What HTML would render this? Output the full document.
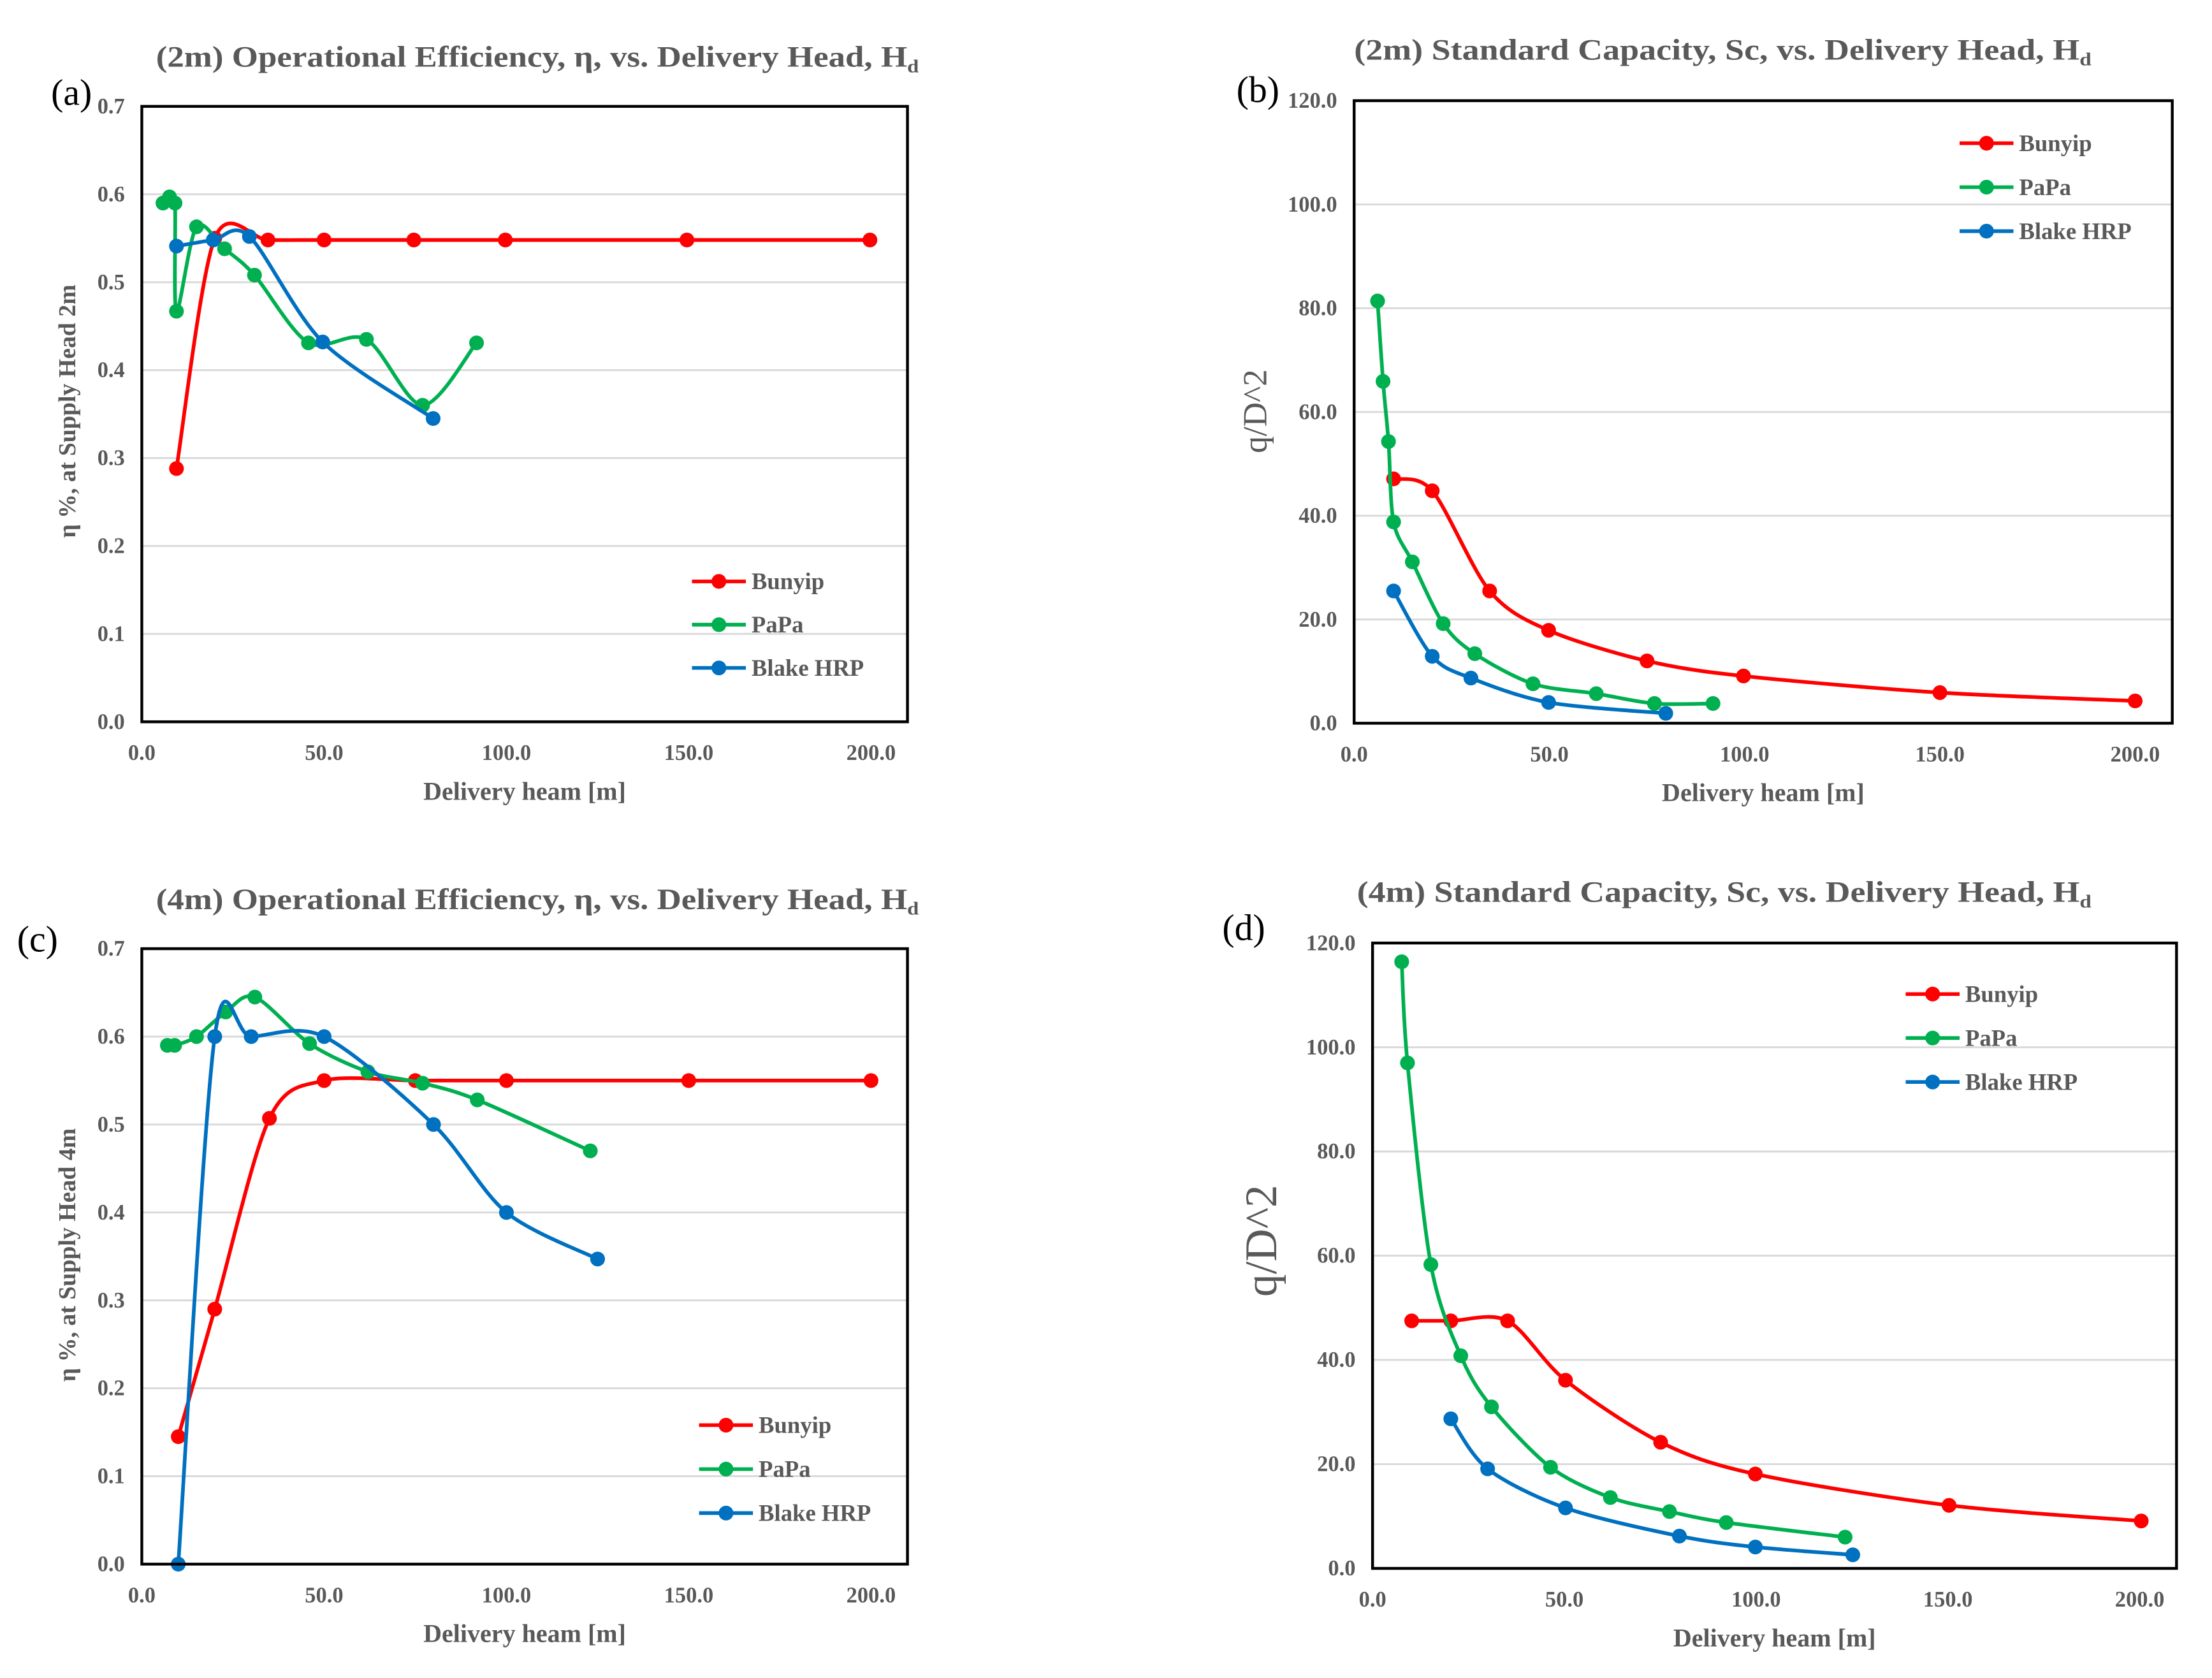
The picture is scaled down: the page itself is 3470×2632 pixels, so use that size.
<!DOCTYPE html>
<html><head><meta charset="utf-8">
<style>
html,body{margin:0;padding:0;background:#fff;}
svg{display:block;}
text{font-family:"Liberation Serif",serif;}
</style></head>
<body>
<svg id="fig" width="3470" height="2632" viewBox="0 0 1560 1183.3" xmlns="http://www.w3.org/2000/svg"></svg>
<script>
// ---------- data ----------
const seriesNames = ["Bunyip","PaPa","Blake HRP"];
const seriesColors = ["#ff0000","#00b050","#0070c0"];

const aBunyipX = [9.5,20,34.6,50,74.6,99.7,149.5,199.7];
const aBunyipY = [0.288,0.55,0.548,0.548,0.548,0.548,0.548,0.548];
const aPapaX = [5.8,7.6,9.1,9.5,15,22.7,30.9,45.7,61.6,77,91.8];
const aPapaY = [0.59,0.597,0.59,0.467,0.563,0.538,0.508,0.431,0.435,0.36,0.431];
const aBlakeX = [9.5,19.6,29.5,49.6,79.9];
const aBlakeY = [0.541,0.548,0.552,0.432,0.345];

const bBunyipX = [10.1,20,34.7,49.8,75,99.7,150,200];
const bBunyipY = [47.1,44.8,25.5,17.9,12,9.1,5.9,4.3];
const bPapaX = [6,7.4,8.8,10.1,14.9,22.8,30.9,45.8,62,76.9,91.9];
const bPapaY = [81.4,65.9,54.3,38.8,31.1,19.2,13.4,7.6,5.7,3.8,3.8];
const bBlakeX = [10.1,20,29.9,49.8,79.8];
const bBlakeY = [25.5,12.9,8.7,4,1.9];

const cBunyipX = [10,20,35,50,75,100,150,200];
const cBunyipY = [0.145,0.29,0.507,0.55,0.55,0.55,0.55,0.55];
const cPapaX = [7,9,15,23,31,46,62,77,92,123];
const cPapaY = [0.59,0.59,0.6,0.628,0.645,0.592,0.56,0.547,0.528,0.47];
const cBlakeX = [10,20,30,50,80,100,125];
const cBlakeY = [0,0.6,0.6,0.6,0.5,0.4,0.347];

const dBunyipX = [10.2,20.4,35.2,50.3,75.1,99.8,150.3,200.4];
const dBunyipY = [47.5,47.5,47.5,36.1,24.2,18.1,12.1,9.1];
const dPapaX = [7.6,9.1,15.2,23,31,46.4,62,77.4,92.2,123.2];
const dPapaY = [116.4,97,58.3,40.8,31,19.4,13.6,10.9,8.8,6];
const dBlakeX = [20.4,30,50.3,80,99.8,125.2];
const dBlakeY = [28.7,19.1,11.6,6.2,4.1,2.6];

const xTicks = [0,50,100,150,200];
const xTickLabels = ["0.0","50.0","100.0","150.0","200.0"];
const etaTicks = [0,0.1,0.2,0.3,0.4,0.5,0.6,0.7];
const etaTickLabels = ["0.0","0.1","0.2","0.3","0.4","0.5","0.6","0.7"];
const capTicks = [0,20,40,60,80,100,120];
const capTickLabels = ["0.0","20.0","40.0","60.0","80.0","100.0","120.0"];

// ---------- drawing ----------
const NS = "http://www.w3.org/2000/svg";
const fig = document.getElementById('fig');
function el(tag, attrs, parent){
  const e = document.createElementNS(NS, tag);
  for (const k in attrs) e.setAttribute(k, attrs[k]);
  (parent||fig).appendChild(e);
  return e;
}
function smoothPath(pts){
  if (pts.length < 2) return "";
  let d = "M" + pts[0][0] + "," + pts[0][1];
  for (let i=0;i<pts.length-1;i++){
    const p0 = pts[i-1]||pts[i], p1 = pts[i], p2 = pts[i+1], p3 = pts[i+2]||p2;
    const t = 0.15;
    const c1 = [p1[0]+(p2[0]-p0[0])*t, p1[1]+(p2[1]-p0[1])*t];
    const c2 = [p2[0]-(p3[0]-p1[0])*t, p2[1]-(p3[1]-p1[1])*t];
    d += " C"+c1[0]+","+c1[1]+" "+c2[0]+","+c2[1]+" "+p2[0]+","+p2[1];
  }
  return d;
}

function drawChart(cfg){
  const g = el('g', {});
  
  
  const sx = v => cfg.x0 + v / cfg.xMax * (cfg.x1 - cfg.x0);
  const sy = v => cfg.y0 - v / cfg.yMax * (cfg.y0 - cfg.y1);

  cfg.yTicks.forEach((t,i)=>{
    if (i===0) return;
    const ln = el('line',{x1:cfg.x0,x2:cfg.x1,y1:sy(t),y2:sy(t),stroke:'#d9d9d9','stroke-width':1.3},g);
    
    
  });
  cfg.yTicks.forEach((t,i)=>{
    const tx = el('text',{x:cfg.x0-12,y:sy(t)+5,'text-anchor':'end','font-size':15.5,'font-weight':'bold',fill:'#595959'},g);
    tx.textContent = cfg.yLabels[i];
    
    
  });
  xTicks.forEach((t,i)=>{
    const tx = el('text',{x:sx(t),y:cfg.y0+27,'text-anchor':'middle','font-size':15.5,'font-weight':'bold',fill:'#595959'},g);
    tx.textContent = xTickLabels[i];
    
    
  });
  cfg.series.forEach((s,si)=>{
    const pts = s.x.map((xv,i)=>[sx(xv), sy(s.y[i])]);
    const p = el('path',{d:smoothPath(pts),fill:'none',stroke:seriesColors[si],'stroke-width':2.6,'stroke-linejoin':'round'},g);
    
    
    pts.forEach(pt=>{
      const c = el('circle',{cx:pt[0],cy:pt[1],r:5.2,fill:seriesColors[si]},g);
      
      
    });
  });
  const box = el('rect',{x:cfg.x0,y:cfg.y1,width:cfg.x1-cfg.x0,height:cfg.y0-cfg.y1,fill:'none',stroke:'#000','stroke-width':2},g);
  
  
  seriesNames.forEach((n,si)=>{
    const ly = cfg.legY + si*cfg.legStep;
    const lg = el('g',{},g);
    
    
    el('line',{x1:cfg.legX,x2:cfg.legX+38,y1:ly,y2:ly,stroke:seriesColors[si],'stroke-width':2.6},lg);
    el('circle',{cx:cfg.legX+19,cy:ly,r:5.2,fill:seriesColors[si]},lg);
    const t = el('text',{x:cfg.legX+42,y:ly+5.5,'font-size':16.5,'font-weight':'bold',fill:'#595959'},lg);
    t.textContent = n;
  });
  const tt = el('text',{x:cfg.titleX,y:cfg.titleY,'font-size':21,'font-weight':'bold',fill:'#595959',lengthAdjust:'spacingAndGlyphs'},g);
  
  
  tt.appendChild(document.createTextNode(cfg.title));
  const sub = el('tspan',{'font-size':13,dy:4},tt);
  sub.textContent = 'd';
  tt.setAttribute('textLength', cfg.titleW);
  const pl = el('text',{x:cfg.panelX,y:cfg.panelY,'font-size':26,fill:'#000'},g);
  pl.textContent = cfg.panel;
  
  
  const xt = el('text',{x:(cfg.x0+cfg.x1)/2,y:cfg.y0+55,'text-anchor':'middle','font-size':18,'font-weight':'bold',fill:'#595959'},g);
  xt.textContent = 'Delivery heam [m]';
  
  
  const yt = el('text',{x:0,y:0,'text-anchor':'middle','font-size':cfg.yTitleSize,'font-weight':cfg.yTitleBold?'bold':'normal',fill:'#595959',
    transform:'translate('+cfg.yTitleX+','+cfg.yTitleY+') rotate(-90)'},g);
  yt.textContent = cfg.yTitle;
  
  
}

drawChart({id:'a',x0:100,x1:640,y0:509,y1:75,xMax:210,yMax:0.7,yTicks:etaTicks,yLabels:etaTickLabels,
  series:[{x:aBunyipX,y:aBunyipY},{x:aPapaX,y:aPapaY},{x:aBlakeX,y:aBlakeY}],
  legX:488,legY:410,legStep:30.5,title:'(2m) Operational  Efficiency, η, vs. Delivery Head, H',titleX:110,titleY:47,titleW:538,
  panel:'(a)',panelX:36,panelY:74,yTitle:'η %, at Supply  Head 2m',yTitleX:53,yTitleY:290,yTitleSize:17,yTitleBold:true});

drawChart({id:'b',x0:955,x1:1532,y0:510,y1:71,xMax:209.5,yMax:120,yTicks:capTicks,yLabels:capTickLabels,
  series:[{x:bBunyipX,y:bBunyipY},{x:bPapaX,y:bPapaY},{x:bBlakeX,y:bBlakeY}],
  legX:1382,legY:101,legStep:31,title:'(2m) Standard Capacity, Sc, vs. Delivery Head, H',titleX:955,titleY:42,titleW:520,
  panel:'(b)',panelX:872,panelY:72,yTitle:'q/D^2',yTitleX:893,yTitleY:290,yTitleSize:24,yTitleBold:false});

drawChart({id:'c',x0:100,x1:640,y0:1103,y1:669,xMax:210,yMax:0.7,yTicks:etaTicks,yLabels:etaTickLabels,
  series:[{x:cBunyipX,y:cBunyipY},{x:cPapaX,y:cPapaY},{x:cBlakeX,y:cBlakeY}],
  legX:493,legY:1005,legStep:31,title:'(4m) Operational  Efficiency, η, vs. Delivery Head, H',titleX:110,titleY:641,titleW:538,
  panel:'(c)',panelX:12,panelY:671,yTitle:'η %, at Supply Head 4m',yTitleX:53,yTitleY:885,yTitleSize:17,yTitleBold:true});

drawChart({id:'d',x0:968,x1:1535,y0:1106,y1:665,xMax:209.6,yMax:120,yTicks:capTicks,yLabels:capTickLabels,
  series:[{x:dBunyipX,y:dBunyipY},{x:dPapaX,y:dPapaY},{x:dBlakeX,y:dBlakeY}],
  legX:1344,legY:701,legStep:31,title:'(4m) Standard Capacity, Sc, vs. Delivery Head, H',titleX:957,titleY:636,titleW:518,
  panel:'(d)',panelX:862,panelY:663,yTitle:'q/D^2',yTitleX:900,yTitleY:875,yTitleSize:32,yTitleBold:false});
</script>
</body></html>
